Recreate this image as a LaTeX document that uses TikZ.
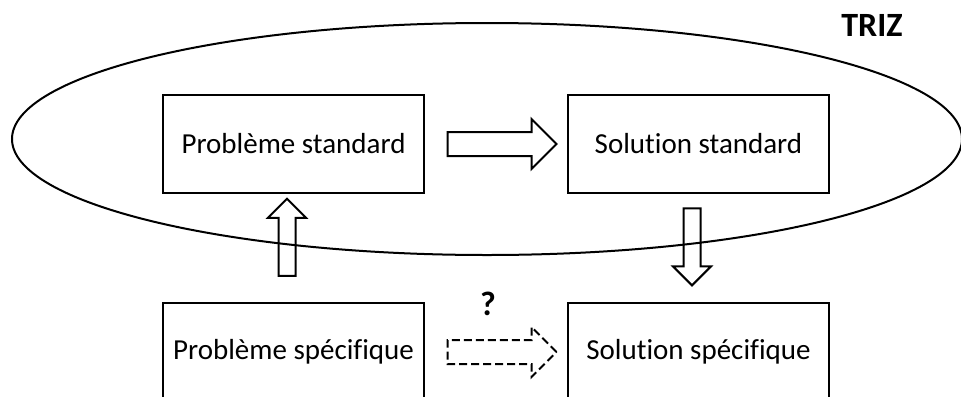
\documentclass[tikz,border=0pt]{standalone}
\usepackage{fontspec}
\setmainfont{Carlito}[Ligatures=NoCommon]
\usetikzlibrary{positioning,calc,shapes.geometric,shapes.arrows}

\begin{document}
\begin{tikzpicture}[
  x=0.5pt, y=-0.5pt, line width=1pt,
  stage/.style={draw, rectangle, minimum width=130.5pt, minimum height=49pt,
                inner sep=0pt, font=\fontsize{14.5}{17}\selectfont},
  flow/.style={draw, single arrow, single arrow head extend=6.5pt,
               single arrow head indent=0pt, single arrow tip angle=90,
               minimum height=54.5pt, inner sep=5.5pt},
  lift/.style={draw, single arrow, single arrow head extend=5.25pt,
               single arrow head indent=0pt, single arrow tip angle=90,
               minimum height=38.5pt, inner sep=3.75pt},
  tag/.style={font=\bfseries\fontsize{17}{20}\selectfont, inner sep=0pt},
]
\useasboundingbox (0,0) rectangle (961,396);

% ---------- TRIZ zone ----------
\node[draw, ellipse, minimum width=475pt, minimum height=116pt, inner sep=0pt] (zone) at (487,139) {};
\node[tag] (triz) at (872,25) {TRIZ};

% ---------- four boxes ----------
\node[stage] (ps) at (293.5,144) {Problème standard};
\node[stage, right=71pt of ps] (ss) {Solution standard};
\node[stage, below=54pt of ps] (psp) {Problème spécifique};
\node[stage, below=54pt of ss] (ssp) {Solution spécifique};

% ---------- block arrows ----------
\node[flow] (std) at ($(ps.east)!0.5!(ss.west)$) {};
\node[lift, shape border rotate=90, xshift=-3.25pt] (abstr) at ($(ps.south)!0.44!(psp.north)$) {};
\node[lift, shape border rotate=270, xshift=-3.25pt] (concr) at ($(ss.south)!0.45!(ssp.north)$) {};
% direct route (unknown)
\node[flow, dashed, dash pattern=on 4pt off 2pt] (direct) at ($(psp.east)!0.5!(ssp.west)$) {};
\node[tag] (unknown) at (488,304) {?};

\end{tikzpicture}
\end{document}
